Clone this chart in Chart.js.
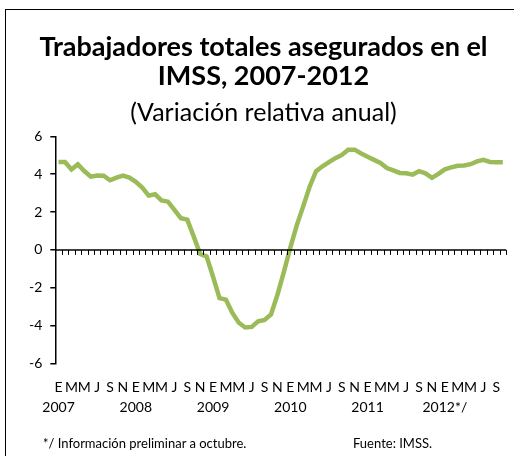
<!DOCTYPE html>
<html>
<head>
<meta charset="utf-8">
<script src="https://cdn.jsdelivr.net/npm/chart.js@4"></script>
<style>
  html, body { margin:0; padding:0; background:#fff; }
  body { width:514px; height:456px; position:relative; overflow:hidden; font-family:Lato, sans-serif; }
  #frame { position:absolute; left:5px; top:9px; width:600px; height:600px; border:1.5px solid #000; }
  #wrap { position:absolute; left:0; top:0; width:514px; height:456px; }
  .note { position:absolute; top:435px; font-size:13px; color:#000; }
</style>
</head>
<body>
<div id="frame"></div>
<div id="wrap"><canvas id="chart"></canvas></div>
<div class="note" style="left:43px;">*/ Información preliminar a octubre.</div>
<div class="note" style="left:353px;">Fuente: IMSS.</div>
<script>
// --- data ---
const years = ['2007', '2008', '2009', '2010', '2011', '2012*/'];
const monthInitials = ['E', '', 'M', '', 'M', '', 'J', '', 'S', '', 'N', ''];
const yTicks = [-6, -4, -2, 0, 2, 4, 6];
const variacion = [
  4.65, 4.65, 4.25, 4.52, 4.17, 3.87, 3.93, 3.92, 3.68, 3.82, 3.93, 3.82,
  3.60, 3.29, 2.87, 2.94, 2.62, 2.55, 2.11, 1.68, 1.60, 0.70, -0.22, -0.35,
  -1.42, -2.55, -2.63, -3.33, -3.85, -4.10, -4.07, -3.78, -3.70, -3.41, -2.37, -1.16,
  0.12, 1.30, 2.30, 3.34, 4.16, 4.42, 4.64, 4.85, 5.02, 5.30, 5.30, 5.10,
  4.93, 4.76, 4.60, 4.33, 4.20, 4.07, 4.05, 3.98, 4.16, 4.05, 3.81, 4.02,
  4.26, 4.36, 4.45, 4.46, 4.53, 4.68, 4.76, 4.65, 4.64, 4.64
];

const labels = variacion.map((v, i) => {
  const m = i % 12;
  return m === 0 ? [monthInitials[0], years[Math.floor(i / 12)]] : monthInitials[m];
});

// zero line with small tick marks at each month boundary (Excel style)
const zeroAxis = {
  id: 'zeroAxis',
  afterDatasetsDraw(chart) {
    const { ctx, scales: { x, y } } = chart;
    const y0 = y.getPixelForValue(0);
    const x0 = x.getPixelForValue(0);
    const step = x.getPixelForValue(1) - x0;
    const n = variacion.length;
    ctx.save();
    ctx.strokeStyle = '#000';
    ctx.lineWidth = 1.5;
    ctx.beginPath();
    ctx.moveTo(x0 - step / 2, y0);
    ctx.lineTo(x0 + (n - 0.5) * step, y0);
    ctx.stroke();
    ctx.lineWidth = 1;
    ctx.beginPath();
    for (let i = 0; i <= n; i++) {
      const px = Math.round(x0 + (i - 0.5) * step) + 0.5;
      ctx.moveTo(px, y0);
      ctx.lineTo(px, y0 + 5);
    }
    ctx.stroke();
    ctx.restore();
  }
};

new Chart(document.getElementById('chart'), {
  type: 'line',
  data: {
    labels,
    datasets: [{
      data: variacion,
      borderColor: '#9bbb59',
      borderWidth: 4.5,
      pointRadius: 0,
      tension: 0,
      fill: false,
    }]
  },
  options: {
    responsive: true,
    maintainAspectRatio: false,
    animation: false,
    layout: { padding: { left: 21, right: 8, top: 16, bottom: 32 } },
    plugins: {
      legend: { display: false },
      tooltip: { enabled: false },
      title: {
        display: true,
        text: ['Trabajadores totales asegurados en el', 'IMSS, 2007-2012'],
        color: '#000',
        font: { family: 'Lato', size: 27, weight: 'bold', lineHeight: 1.1 },
        padding: { top: 16, bottom: 0 }
      },
      subtitle: {
        display: true,
        text: '(Variación relativa anual)',
        color: '#000',
        font: { family: 'Lato', size: 25, weight: 'normal', lineHeight: 1.2 },
        padding: { top: 7, bottom: 8 }
      }
    },
    scales: {
      x: {
        offset: true,
        border: { display: false },
        grid: { display: false },
        ticks: {
          color: '#000',
          font: { family: 'Lato', size: 14, lineHeight: 1.45 },
          autoSkip: false,
          maxRotation: 0,
          padding: 6
        }
      },
      y: {
        min: -6,
        max: 6,
        afterBuildTicks: axis => { axis.ticks = yTicks.map(v => ({ value: v })); },
        border: { display: true, color: '#000', width: 1.5 },
        grid: { drawOnChartArea: false, drawTicks: true, tickLength: 5, color: '#000', lineWidth: 1.5 },
        ticks: { color: '#000', font: { family: 'Lato', size: 14 }, padding: 8 }
      }
    }
  },
  plugins: [zeroAxis]
});
</script>
</body>
</html>
